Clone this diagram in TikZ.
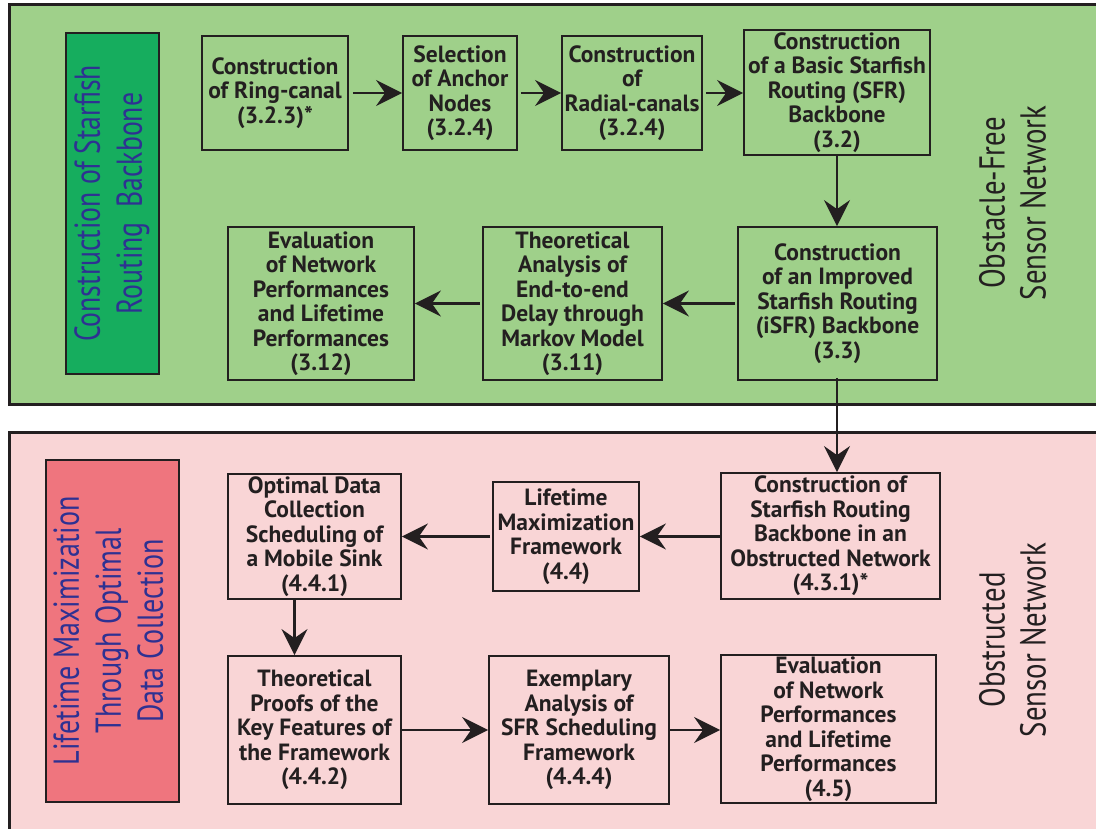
\documentclass[tikz,border=0pt]{standalone}
\usepackage{fontspec}
\setmainfont{PT Sans}
\usetikzlibrary{arrows.meta}
\definecolor{panelgreen}{HTML}{9FD08A}
\definecolor{labelgreen}{HTML}{16AD5E}
\definecolor{panelpink}{HTML}{F9D5D6}
\definecolor{labelpink}{HTML}{EF757E}
\definecolor{labelblue}{HTML}{2E3192}
\definecolor{ink}{HTML}{231F20}
% narrow multi-line caption: lines centred, then squeezed horizontally
\newcommand{\narrowlines}[2]{\scalebox{#1}[1]{\begin{tabular}{@{}c@{}}#2\end{tabular}}}
\begin{document}
\begin{tikzpicture}[x=1pt,y=-1pt,
  panel/.style={draw=ink, line width=3pt},
  stage/.style={draw=ink, line width=1.8pt, align=center, text=ink,
    font=\bfseries\fontsize{23.5}{24.5}\selectfont, inner sep=0pt},
  sidebox/.style={draw=ink, line width=1.8pt, inner sep=0pt},
  sidetext/.style={rotate=90, text=labelblue, inner sep=0pt,
    font=\fontsize{36}{42}\selectfont},
  nettext/.style={rotate=90, text=ink, inner sep=0pt,
    font=\fontsize{36}{41}\selectfont},
  flow/.style={draw=ink, line width=2.8pt,
    -{Stealth[length=26pt, width=26pt, inset=9pt]}},
]
\useasboundingbox (0,0) rectangle (1096,829);

% background panels
\fill[white] (0,0) rectangle (1096,829);
\draw[panel, fill=panelgreen] (9,5) rectangle (1110,404);
\draw[panel, fill=panelpink] (9,432) rectangle (1110,845);

% side labels
\node[sidebox, fill=labelgreen, minimum width=93pt, minimum height=341pt] (lg) at (112.5,203.5) {};
\node[sidetext] (lgt) at (lg.center)
  {\narrowlines{0.77}{Construction of Starfish\\Routing\ \ Backbone}};
\node[sidebox, fill=labelpink, minimum width=133pt, minimum height=342pt] (lp) at (112.5,631) {};
\node[sidetext] (lpt) at (lp.center)
  {\narrowlines{0.78}{Lifetime Maximization\\Through Optimal\\Data Collection}};

\node[nettext] (nf) at (1017,203) {\narrowlines{0.8}{Obstacle-Free\\Sensor Network}};
\node[nettext] (no) at (1017,640) {\narrowlines{0.8}{Obstructed\\Sensor Network}};

% obstacle-free stages
\node[stage, minimum width=146pt, minimum height=114pt] (A) at (275,93)
  {Construction\\of Ring-canal\\(3.2.3)*};
\node[stage, minimum width=114pt, minimum height=114pt] (B) at (460,93)
  {Selection\\of Anchor\\Nodes\\(3.2.4)};
\node[stage, minimum width=140pt, minimum height=114pt] (C) at (632,93)
  {Construction\\of\\Radial-canals\\(3.2.4)};
\node[stage, minimum width=186pt, minimum height=125pt] (D) at (837,92.5)
  {Construction\\of a Basic Starfish\\Routing (SFR)\\Backbone\\(3.2)};
\node[stage, minimum width=186pt, minimum height=153pt] (E) at (321,303.5)
  {Evaluation\\of Network\\Performances\\and Lifetime\\Performances\\(3.12)};
\node[stage, minimum width=179pt, minimum height=153pt] (F) at (572.5,303.5)
  {Theoretical\\Analysis of\\End-to-end\\Delay through\\Markov Model\\(3.11)};
\node[stage, minimum width=199pt, minimum height=153pt] (G) at (837.5,303.5)
  {Construction\\of an Improved\\Starfish Routing\\(iSFR) Backbone\\(3.3)};

% obstructed stages
\node[stage, minimum width=219pt, minimum height=126pt] (H) at (830.5,536)
  {Construction of\\Starfish Routing\\Backbone in an\\Obstructed Network\\(4.3.1)*};
\node[stage, minimum width=146pt, minimum height=109pt] (I) at (566,536.5)
  {Lifetime\\Maximization\\Framework\\(4.4)};
\node[stage, minimum width=173pt, minimum height=125pt] (J) at (314.5,536.5)
  {Optimal Data\\Collection\\Scheduling of\\a Mobile Sink\\(4.4.1)};
\node[stage, minimum width=173pt, minimum height=148pt] (K) at (314.5,730)
  {Theoretical\\Proofs of the\\Key Features of\\the Framework\\(4.4.2)};
\node[stage, minimum width=180pt, minimum height=148pt] (L) at (579,730)
  {Exemplary\\Analysis of\\SFR Scheduling\\Framework\\(4.4.4)};
\node[stage, minimum width=215pt, minimum height=148pt] (M) at (828.5,729)
  {Evaluation\\of Network\\Performances\\and Lifetime\\Performances\\(4.5)};

% connectors
\draw[flow] ([xshift=4pt]A.east) -- (B.west);
\draw[flow] ([xshift=3pt]B.east) -- (C.west);
\draw[flow] ([xshift=3pt]C.east) -- (D.west |- C.east);
\draw[flow] (D.south) -- (G.north -| D.south);
\draw[flow] ([xshift=-2pt]G.west) -- (F.east);
\draw[flow] ([xshift=-2pt]F.west) -- (E.east);
\draw[flow] ([yshift=3pt]G.south -| D.south) -- (H.north -| D.south);
\draw[flow] (H.west |- I.east) -- (I.east);
\draw[flow] ([xshift=-2pt]I.west) -- (J.east |- I.west);
\draw[flow] ([xshift=-20pt]J.south) -- ([xshift=-20pt]K.north);
\draw[flow] (K.east) -- (L.west);
\draw[flow] (L.east) -- (M.west |- L.east);
\end{tikzpicture}
\end{document}
